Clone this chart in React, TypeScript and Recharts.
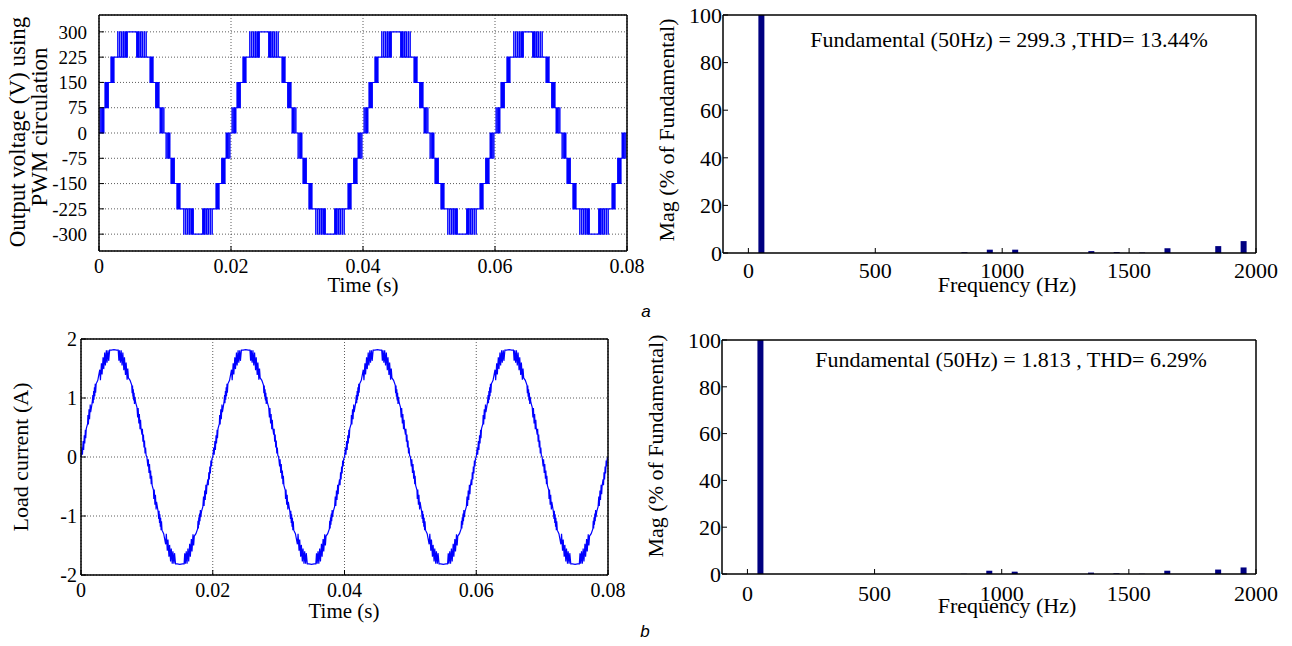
import React from 'react';
import { LineChart, Line, BarChart, Bar, XAxis, YAxis, CartesianGrid } from 'recharts';

// ---------- axis ticks ----------
const timeTicks = [0, 0.02, 0.04, 0.06, 0.08];
const voltageTicks = [-300, -225, -150, -75, 0, 75, 150, 225, 300];
const currentTicks = [-2, -1, 0, 1, 2];
const freqTicks = [0, 500, 1000, 1500, 2000];
const magTicks = [0, 20, 40, 60, 80, 100];

// start times (s) of the four 50 Hz cycles shown
const periodStarts = [0, 0.02, 0.04, 0.06];

// one cycle of the PWM multilevel output voltage: [time in ms, level in V] (step after)
const voltageCycle: [number, number][] = [
  [0, 0],
  [0.15, 75], [0.2, 0], [0.4, 75], [0.45, 0], [0.58, 75], [0.63, 0], [0.75, 75],
  [0.9, 150], [0.95, 75], [1.1, 150], [1.15, 75], [1.28, 150], [1.33, 75], [1.42, 150],
  [1.8, 225], [1.84, 150], [1.9, 225], [1.94, 150], [2.0, 225], [2.04, 150], [2.1, 225], [2.14, 150], [2.2, 225], [2.23, 150], [2.28, 225],
  [2.83, 300], [2.88, 225], [3.12, 300], [3.18, 225], [3.42, 300], [3.5, 225], [3.72, 300], [3.82, 225], [4.02, 300], [4.14, 225], [4.3, 300],
  [5.7, 225], [5.86, 300], [5.98, 225], [6.18, 300], [6.28, 225], [6.5, 300], [6.58, 225], [6.82, 300], [6.88, 225], [7.12, 300], [7.17, 225],
  [7.72, 150], [7.77, 225], [7.8, 150], [7.86, 225], [7.9, 150], [7.96, 225], [8.0, 150], [8.06, 225], [8.1, 150], [8.16, 225], [8.2, 150],
  [8.58, 75], [8.67, 150], [8.72, 75], [8.85, 150], [8.9, 75], [9.05, 150], [9.1, 75],
  [9.25, 0], [9.37, 75], [9.42, 0], [9.55, 75], [9.6, 0], [9.8, 75], [9.85, 0],
  [10.15, -75], [10.2, 0], [10.4, -75], [10.45, 0], [10.58, -75], [10.63, 0], [10.75, -75],
  [10.9, -150], [10.95, -75], [11.1, -150], [11.15, -75], [11.28, -150], [11.33, -75], [11.42, -150],
  [11.8, -225], [11.84, -150], [11.9, -225], [11.94, -150], [12.0, -225], [12.04, -150], [12.1, -225], [12.14, -150], [12.2, -225], [12.23, -150], [12.28, -225],
  [12.83, -300], [12.88, -225], [13.12, -300], [13.18, -225], [13.42, -300], [13.5, -225], [13.72, -300], [13.82, -225], [14.02, -300], [14.14, -225], [14.3, -300],
  [15.7, -225], [15.86, -300], [15.98, -225], [16.18, -300], [16.28, -225], [16.5, -300], [16.58, -225], [16.82, -300], [16.88, -225], [17.12, -300], [17.17, -225],
  [17.72, -150], [17.77, -225], [17.8, -150], [17.86, -225], [17.9, -150], [17.96, -225], [18.0, -150], [18.06, -225], [18.1, -150], [18.16, -225], [18.2, -150],
  [18.58, -75], [18.67, -150], [18.72, -75], [18.85, -150], [18.9, -75], [19.05, -150], [19.1, -75],
  [19.25, 0], [19.37, -75], [19.42, 0], [19.55, -75], [19.6, 0], [19.8, -75], [19.85, 0],
];

// one cycle of the load current: [time in ms, current in A]
const currentCycle: [number, number][] = [
  [0, 0],
  [0.15, 0.16], [0.22, 0.04], [0.32, 0.27], [0.4, 0.12], [0.5, 0.37], [0.57, 0.23], [0.66, 0.46], [0.72, 0.32], [0.8, 0.48],
  [1.0, 0.56], [1.05, 0.71], [1.12, 0.55], [1.22, 0.81], [1.3, 0.64], [1.4, 0.89], [1.47, 0.76],
  [1.7, 0.92], [1.8, 1.05], [1.85, 0.91], [1.92, 1.12], [1.97, 0.97], [2.04, 1.18], [2.09, 1.03], [2.16, 1.24], [2.22, 1.09], [2.3, 1.24],
  [2.55, 1.3], [2.85, 1.48], [2.95, 1.3], [3.1, 1.59], [3.2, 1.4], [3.35, 1.69], [3.45, 1.49], [3.6, 1.77], [3.7, 1.55], [3.85, 1.81], [3.95, 1.6], [4.1, 1.81], [4.2, 1.63], [4.35, 1.81],
  [4.6, 1.81], [5.0, 1.82], [5.4, 1.81], [5.65, 1.81],
  [5.75, 1.63], [5.85, 1.81], [5.98, 1.6], [6.1, 1.81], [6.23, 1.55], [6.35, 1.77], [6.5, 1.47], [6.6, 1.69], [6.75, 1.39], [6.85, 1.6], [7.0, 1.31], [7.1, 1.5], [7.2, 1.34],
  [7.45, 1.3], [7.7, 1.22], [7.76, 1.08], [7.82, 1.21], [7.88, 1.02], [7.94, 1.15], [8.0, 0.96], [8.06, 1.09], [8.12, 0.9], [8.18, 1.02], [8.3, 0.92],
  [8.5, 0.84], [8.6, 0.67], [8.68, 0.83], [8.78, 0.57], [8.86, 0.73], [8.96, 0.47], [9.04, 0.63], [9.1, 0.5],
  [9.25, 0.38], [9.32, 0.48], [9.4, 0.26], [9.48, 0.38], [9.56, 0.16], [9.64, 0.28], [9.72, 0.06], [9.8, 0.16], [9.88, 0.03],
  [10.0, 0],
  [10.15, -0.16], [10.22, -0.04], [10.32, -0.27], [10.4, -0.12], [10.5, -0.37], [10.57, -0.23], [10.66, -0.46], [10.72, -0.32], [10.8, -0.48],
  [11.0, -0.56], [11.05, -0.71], [11.12, -0.55], [11.22, -0.81], [11.3, -0.64], [11.4, -0.89], [11.47, -0.76],
  [11.7, -0.92], [11.8, -1.05], [11.85, -0.91], [11.92, -1.12], [11.97, -0.97], [12.04, -1.18], [12.09, -1.03], [12.16, -1.24], [12.22, -1.09], [12.3, -1.24],
  [12.55, -1.3], [12.85, -1.48], [12.95, -1.3], [13.1, -1.59], [13.2, -1.4], [13.35, -1.69], [13.45, -1.49], [13.6, -1.77], [13.7, -1.55], [13.85, -1.81], [13.95, -1.6], [14.1, -1.81], [14.2, -1.63], [14.35, -1.81],
  [14.6, -1.81], [15.0, -1.82], [15.4, -1.81], [15.65, -1.81],
  [15.75, -1.63], [15.85, -1.81], [15.98, -1.6], [16.1, -1.81], [16.23, -1.55], [16.35, -1.77], [16.5, -1.47], [16.6, -1.69], [16.75, -1.39], [16.85, -1.6], [17.0, -1.31], [17.1, -1.5], [17.2, -1.34],
  [17.45, -1.3], [17.7, -1.22], [17.76, -1.08], [17.82, -1.21], [17.88, -1.02], [17.94, -1.15], [18.0, -0.96], [18.06, -1.09], [18.12, -0.9], [18.18, -1.02], [18.3, -0.92],
  [18.5, -0.84], [18.6, -0.67], [18.68, -0.83], [18.78, -0.57], [18.86, -0.73], [18.96, -0.47], [19.04, -0.63], [19.1, -0.5],
  [19.25, -0.38], [19.32, -0.48], [19.4, -0.26], [19.48, -0.38], [19.56, -0.16], [19.64, -0.28], [19.72, -0.06], [19.8, -0.16], [19.88, -0.03],
];

// harmonic spectra (% of fundamental)
const harmonicFreqs = [50, 850, 950, 1050, 1350, 1450, 1550, 1650, 1850, 1950];
const voltageSpectrum = [100, 0.3, 1.4, 1.4, 0.8, 0.4, 0.2, 2.0, 2.9, 5.0];
const currentSpectrum = [100, 0.1, 1.4, 1.0, 0.6, 0.3, 0.1, 1.4, 1.9, 2.8];

const voltageNote = 'Fundamental (50Hz) = 299.3 ,THD= 13.44%';
const currentNote = 'Fundamental (50Hz) = 1.813 , THD= 6.29%';

// ---------- tables built from the arrays ----------
const voltageData = periodStarts
  .flatMap((p) => voltageCycle.map(([ms, v]) => ({ t: p + ms / 1000, v })))
  .concat([{ t: 0.08, v: 0 }]);
const currentData = periodStarts
  .flatMap((p) => currentCycle.map(([ms, i]) => ({ t: p + ms / 1000, i })))
  .concat([{ t: 0.08, i: 0 }]);
const voltageBars = harmonicFreqs.map((f, k) => ({ f, m: voltageSpectrum[k] }));
const currentBars = harmonicFreqs.map((f, k) => ({ f, m: currentSpectrum[k] }));

const SERIF = '"Liberation Serif", "Times New Roman", serif';
const frame = { stroke: '#000', strokeWidth: 1.5 };
const tickLine = { stroke: '#000', strokeWidth: 1 };
const tickStyle = (size: number) => ({ fontSize: size, fill: '#000', fontFamily: SERIF });

const Txt = ({ x, y, size, children, rotate = false, italic = false, sans = false }: any) => (
  <div
    style={{
      position: 'absolute',
      left: x,
      top: y,
      transform: rotate ? 'translate(-50%, -50%) rotate(-90deg)' : 'translate(-50%, -50%)',
      fontSize: size,
      lineHeight: `${size}px`,
      whiteSpace: 'nowrap',
      fontFamily: sans ? '"Liberation Sans", Arial, sans-serif' : SERIF,
      fontStyle: italic ? 'italic' : 'normal',
      color: '#000',
    }}
  >
    {children}
  </div>
);

const Frame = ({ xDomain, xTicks, yDomain, yTicks }: any) => [
  <XAxis key="xt" xAxisId="top" orientation="top" type="number" domain={xDomain} ticks={xTicks} height={1}
    tick={false} tickSize={-5} axisLine={frame} tickLine={tickLine} interval={0} allowDataOverflow />,
  <YAxis key="yr" yAxisId="right" orientation="right" type="number" domain={yDomain} ticks={yTicks} width={1}
    tick={false} tickSize={-5} axisLine={frame} tickLine={tickLine} interval={0} allowDataOverflow />,
];

export default function App() {
  return (
    <div style={{ position: 'absolute', left: 0, top: 0, width: 1292, height: 646, background: '#fff', overflow: 'hidden' }}>
      {/* (a) left: output voltage */}
      <div style={{ position: 'absolute', left: 0, top: 0 }}>
        <LineChart width={660} height={300} data={voltageData} margin={{ top: 14, right: 32, bottom: 19, left: 39 }}>
          <CartesianGrid stroke="#333" strokeDasharray="1 2" strokeWidth={0.8} />
          <XAxis dataKey="t" type="number" domain={[0, 0.08]} ticks={timeTicks} height={30} interval={0}
            tickSize={-5} tickMargin={13} tick={tickStyle(20)} axisLine={frame} tickLine={tickLine} />
          <YAxis type="number" domain={[-350, 350]} ticks={voltageTicks} width={60} interval={0}
            tickSize={-5} tickMargin={17} tick={tickStyle(19)} axisLine={frame} tickLine={tickLine} />
          {Frame({ xDomain: [0, 0.08], xTicks: timeTicks, yDomain: [-350, 350], yTicks: voltageTicks })}
          <Line dataKey="v" type="stepAfter" stroke="#0000ff" strokeWidth={1.1} dot={false} isAnimationActive={false} />
        </LineChart>
      </div>

      {/* (a) right: voltage spectrum */}
      <div style={{ position: 'absolute', left: 640, top: 0 }}>
        <BarChart width={652} height={300} data={voltageBars} margin={{ top: 14, right: 35, bottom: 17, left: 33 }}>
          <XAxis dataKey="f" type="number" domain={[-100, 2000]} ticks={freqTicks} height={30} interval={0}
            tickSize={-5} tickMargin={14} tick={tickStyle(22)} axisLine={frame} tickLine={tickLine} />
          <YAxis type="number" domain={[0, 100]} ticks={magTicks} width={50} interval={0}
            tickSize={-5} tickMargin={6} tick={tickStyle(22)} axisLine={frame} tickLine={tickLine} />
          {Frame({ xDomain: [-100, 2000], xTicks: freqTicks, yDomain: [0, 100], yTicks: magTicks })}
          <Bar dataKey="m" fill="#000080" barSize={6} isAnimationActive={false} />
        </BarChart>
      </div>

      {/* (b) left: load current */}
      <div style={{ position: 'absolute', left: 0, top: 320 }}>
        <LineChart width={650} height={326} data={currentData} margin={{ top: 18, right: 41, bottom: 41, left: 31 }}>
          <CartesianGrid stroke="#333" strokeDasharray="1 2" strokeWidth={0.8} />
          <XAxis dataKey="t" type="number" domain={[0, 0.08]} ticks={timeTicks} height={30} interval={0}
            tickSize={-5} tickMargin={13} tick={tickStyle(20)} axisLine={frame} tickLine={tickLine} />
          <YAxis type="number" domain={[-2, 2]} ticks={currentTicks} width={50} interval={0}
            tickSize={-5} tickMargin={9} tick={tickStyle(20)} axisLine={frame} tickLine={tickLine} />
          {Frame({ xDomain: [0, 0.08], xTicks: timeTicks, yDomain: [-2, 2], yTicks: currentTicks })}
          <Line dataKey="i" type="linear" stroke="#0000ff" strokeWidth={1.2} dot={false} isAnimationActive={false} />
        </LineChart>
      </div>

      {/* (b) right: current spectrum */}
      <div style={{ position: 'absolute', left: 640, top: 320 }}>
        <BarChart width={652} height={326} data={currentBars} margin={{ top: 19, right: 35, bottom: 42, left: 32 }}>
          <XAxis dataKey="f" type="number" domain={[-100, 2000]} ticks={freqTicks} height={30} interval={0}
            tickSize={-5} tickMargin={16} tick={tickStyle(22)} axisLine={frame} tickLine={tickLine} />
          <YAxis type="number" domain={[0, 100]} ticks={magTicks} width={50} interval={0}
            tickSize={-5} tickMargin={6} tick={tickStyle(22)} axisLine={frame} tickLine={tickLine} />
          {Frame({ xDomain: [-100, 2000], xTicks: freqTicks, yDomain: [0, 100], yTicks: magTicks })}
          <Bar dataKey="m" fill="#000080" barSize={6} isAnimationActive={false} />
        </BarChart>
      </div>

      {/* axis titles and notes */}
      <Txt x={17} y={132} size={23} rotate>Output voltage (V) using</Txt>
      <Txt x={39} y={127} size={23} rotate>PWM circulation</Txt>
      <Txt x={363} y={285} size={21}>Time (s)</Txt>
      <Txt x={667} y={130} size={22} rotate>Mag (% of Fundamental)</Txt>
      <Txt x={1007} y={285} size={22}>Frequency (Hz)</Txt>
      <Txt x={1009} y={40} size={22}>{voltageNote}</Txt>

      <Txt x={21} y={457} size={22} rotate>Load current (A)</Txt>
      <Txt x={344} y={611} size={21}>Time (s)</Txt>
      <Txt x={656} y={446} size={22} rotate>Mag (% of Fundamental)</Txt>
      <Txt x={1007} y={606} size={22}>Frequency (Hz)</Txt>
      <Txt x={1011} y={360} size={22}>{currentNote}</Txt>

      <Txt x={646} y={311} size={17} italic sans>a</Txt>
      <Txt x={645} y={631} size={17} italic sans>b</Txt>
    </div>
  );
}
